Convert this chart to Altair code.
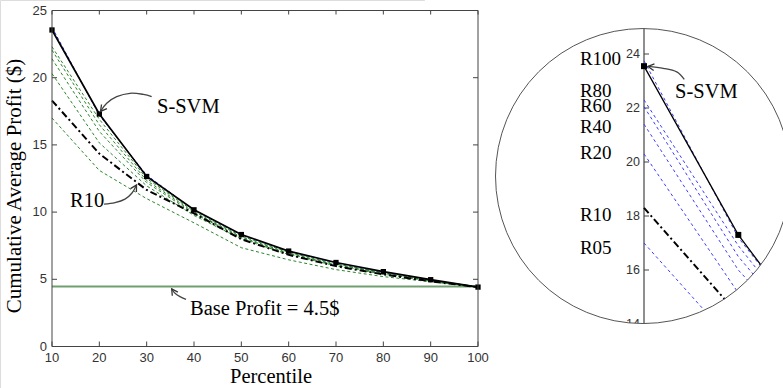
import math
import pandas as pd
import altair as alt

# ---------------- data ----------------
PCT = [10, 20, 30, 40, 50, 60, 70, 80, 90, 100]
SSVM = [23.55, 17.3, 12.65, 10.17, 8.33, 7.1, 6.25, 5.57, 4.97, 4.42]
R100 = [23.75, 17.2, 12.75, 10.15, 8.3, 7.08, 6.22, 5.55, 4.95, 4.42]
R80 = [22.3, 16.9, 12.5, 10.05, 8.22, 7.0, 6.15, 5.5, 4.92, 4.42]
R60 = [22.05, 16.5, 12.35, 9.98, 8.15, 6.95, 6.1, 5.46, 4.9, 4.42]
R40 = [21.4, 16.0, 12.2, 9.9, 8.08, 6.9, 6.05, 5.42, 4.88, 4.42]
R20 = [20.3, 15.15, 11.95, 9.75, 8.0, 6.85, 6.0, 5.38, 4.86, 4.42]
R10 = [18.3, 14.35, 11.65, 9.9, 7.98, 6.82, 5.98, 5.36, 4.85, 4.42]
R05 = [17.0, 13.1, 11.0, 9.2, 7.35, 6.45, 5.72, 5.2, 4.82, 4.42]
BASE = 4.46

XTICKS = [10, 20, 30, 40, 50, 60, 70, 80, 90, 100]
YTICKS = [0, 5, 10, 15, 20, 25]
ITICKS = [14, 16, 18, 20, 22, 24]

MAIN_NOTE_TEXT = ["S-SVM", "R10", "Base Profit = 4.5$"]
MAIN_NOTE_X = [32.18, 13.8, 39.16]
MAIN_NOTE_Y = [17.35, 10.40, 2.34]

INSET_LABEL_TEXT = ["R100", "R80", "R60", "R40", "R20", "R10", "R05"]
INSET_LABEL_Y = [23.59, 22.42, 21.86, 21.06, 20.10, 17.83, 16.59]
INSET_LABEL_X = [3.2] * 7
INSET_NOTE_TEXT = ["S-SVM"]
INSET_NOTE_X = [13.29]
INSET_NOTE_Y = [22.38]

ARROW_SSVM_X = [31.06, 29.29, 26.48, 23.67, 21.56, 20.25]
ARROW_SSVM_Y = [18.59, 18.76, 18.84, 18.59, 18.10, 17.49]
ARROW_R10_X = [20.99, 23.31, 25.42, 26.9, 27.85]
ARROW_R10_Y = [10.60, 10.71, 10.97, 11.42, 12.02]
ARROW_BASE_X = [38.31, 37.04, 35.99, 35.5, 35.29]
ARROW_BASE_Y = [3.51, 3.71, 3.96, 4.18, 4.29]
ARROW_INSET_X = [14.27, 13.47, 12.05, 10.42]
ARROW_INSET_Y = [23.06, 23.34, 23.47, 23.54]

LENS_X = [9.894]
LENS_Y = [19.48]

# ---------------- scales (pixel ranges) ----------------
W, H = 783, 388
MX = alt.Scale(domain=[10, 100], range=[52, 478], nice=False, zero=False)
MY = alt.Scale(domain=[0, 25], range=[346.5, 10.5], nice=False, zero=False)
IX = alt.Scale(domain=[10, 25], range=[644, 644 + 15 * 9.43], nice=False, zero=False)
IY = alt.Scale(domain=[14, 25], range=[324, 27], nice=False, zero=False)

SERIF = "Liberation Serif"
SANS = "Liberation Sans"
ARROW_PATH = "M -1 -0.55 L 0 0 L -1 0.55"


def long_df(names, series):
    rows = []
    for n, s in zip(names, series):
        for p, v in zip(PCT, s):
            rows.append({"pct": p, "val": v, "series": n})
    return pd.DataFrame(rows)


def xy(sx, sy, xf="pct", yf="val"):
    return dict(x=alt.X(f"{xf}:Q", scale=sx, axis=None),
                y=alt.Y(f"{yf}:Q", scale=sy, axis=None))


def curves(sx, sy, names, series, **mk):
    df = long_df(names, series)
    return alt.Chart(df).mark_line(**mk).encode(detail="series:N", **xy(sx, sy))


def arrow(sx, sy, xs, ys, angle):
    df = pd.DataFrame({"x": xs, "y": ys})
    line = alt.Chart(df).mark_line(interpolate="cardinal", color="#444",
                                   strokeWidth=1.3).encode(**xy(sx, sy, "x", "y"))
    head = alt.Chart(df.iloc[[-1]]).mark_point(shape=ARROW_PATH, size=150, angle=angle,
                                               filled=False, color="#333", opacity=1,
                                               strokeWidth=1.3).encode(**xy(sx, sy, "x", "y"))
    return [line, head]


def texts(sx, sy, ts, xs, ys, **mk):
    df = pd.DataFrame({"t": ts, "x": xs, "y": ys})
    return alt.Chart(df).mark_text(**mk).encode(text="t:N", **xy(sx, sy, "x", "y"))


layers = []

# ---------- inset (under mask) ----------
itick_df = pd.DataFrame({"t": ITICKS})
layers.append(alt.Chart(itick_df).mark_text(align="right", baseline="middle", font=SANS,
                                            fontSize=12.5, color="#333").encode(
    y=alt.Y("t:Q", scale=IY, axis=None), x=alt.value(640), text=alt.Text("t:Q", format="d")))
iaxis_df = pd.DataFrame({"x": [10], "y0": [14], "y1": [25]})
layers.append(alt.Chart(iaxis_df).mark_rule(color="#444", strokeWidth=1.2).encode(
    x=alt.X("x:Q", scale=IX, axis=None), y=alt.Y("y0:Q", scale=IY, axis=None), y2="y1:Q"))
layers.append(alt.Chart(itick_df).mark_rule(color="#444", strokeWidth=1).encode(
    y=alt.Y("t:Q", scale=IY, axis=None), x=alt.value(644), x2=alt.value(649)))
layers.append(curves(IX, IY, ["R100", "R80", "R60", "R40", "R20", "R05"],
                     [R100, R80, R60, R40, R20, R05],
                     color="#3c3cff", strokeWidth=1, strokeDash=[3, 3]))
layers.append(curves(IX, IY, ["R10"], [R10], color="black", strokeWidth=2,
                     strokeDash=[7, 3, 2, 3]))
layers.append(curves(IX, IY, ["S-SVM"], [SSVM], color="black", strokeWidth=1.3))
layers.append(alt.Chart(long_df(["S-SVM"], [SSVM])).mark_point(
    shape="square", filled=True, size=36, color="black", opacity=1).encode(**xy(IX, IY)))

# ---------- lens mask & outline ----------
lens_df = pd.DataFrame({"x": LENS_X, "y": LENS_Y})
layers.append(alt.Chart(lens_df).mark_arc(theta=0, theta2=2 * math.pi, innerRadius=147.5,
                                          outerRadius=280, color="white", strokeWidth=0).encode(
    **xy(IX, IY, "x", "y")))
layers.append(alt.Chart(lens_df).mark_arc(theta=0, theta2=2 * math.pi, innerRadius=0,
                                          outerRadius=147.5, fillOpacity=0, stroke="#555",
                                          strokeWidth=1).encode(**xy(IX, IY, "x", "y")))

# ---------- inset annotations ----------
layers.append(texts(IX, IY, INSET_LABEL_TEXT, INSET_LABEL_X, INSET_LABEL_Y, align="left",
                    baseline="alphabetic", font=SERIF, fontSize=19, color="black"))
layers.append(texts(IX, IY, INSET_NOTE_TEXT, INSET_NOTE_X, INSET_NOTE_Y, align="left",
                    baseline="alphabetic", font=SERIF, fontSize=20.5, color="black"))
layers += arrow(IX, IY, ARROW_INSET_X, ARROW_INSET_Y, 186.7)

# ---------- main plot ----------
base_df = pd.DataFrame({"x0": [10], "x1": [100], "y": [BASE]})
layers.append(alt.Chart(base_df).mark_rule(color="#6f9f6f", strokeWidth=2).encode(
    x=alt.X("x0:Q", scale=MX, axis=None), x2="x1:Q", y=alt.Y("y:Q", scale=MY, axis=None)))
layers.append(curves(MX, MY, ["R80", "R60", "R40", "R20", "R05"], [R80, R60, R40, R20, R05],
                     color="#2a862a", strokeWidth=1, strokeDash=[3, 2.5]))
layers.append(curves(MX, MY, ["R100"], [R100], color="#2323ff", strokeWidth=1,
                     strokeDash=[3, 2.5]))
layers.append(curves(MX, MY, ["R10"], [R10], color="black", strokeWidth=2,
                     strokeDash=[7, 3, 2, 3]))
layers.append(curves(MX, MY, ["S-SVM"], [SSVM], color="black", strokeWidth=1.7))
layers.append(alt.Chart(long_df(["S-SVM"], [SSVM])).mark_point(
    shape="square", filled=True, size=28, color="black", opacity=1).encode(**xy(MX, MY)))
layers.append(texts(MX, MY, MAIN_NOTE_TEXT, MAIN_NOTE_X, MAIN_NOTE_Y, align="left",
                    baseline="alphabetic", font=SERIF, fontSize=20.5, color="black"))
layers += arrow(MX, MY, ARROW_SSVM_X, ARROW_SSVM_Y, 127.1)
layers += arrow(MX, MY, ARROW_R10_X, ARROW_R10_Y, 299.4)
layers += arrow(MX, MY, ARROW_BASE_X, ARROW_BASE_Y, 236.3)

# ---------- main axes ----------
frame_df = pd.DataFrame({"x0": [10], "x1": [100], "y0": [0], "y1": [25]})
layers.append(alt.Chart(frame_df).mark_rect(fillOpacity=0, stroke="#444", strokeWidth=1).encode(
    x=alt.X("x0:Q", scale=MX, axis=None), x2="x1:Q",
    y=alt.Y("y0:Q", scale=MY, axis=None), y2="y1:Q"))
xt_df = pd.DataFrame({"t": XTICKS})
yt_df = pd.DataFrame({"t": YTICKS})
for y0, y1 in [(346.5, 341.5), (10.5, 14.5)]:
    layers.append(alt.Chart(xt_df).mark_rule(color="#444", strokeWidth=1).encode(
        x=alt.X("t:Q", scale=MX, axis=None), y=alt.value(y0), y2=alt.value(y1)))
for x0, x1 in [(52, 57), (478, 473)]:
    layers.append(alt.Chart(yt_df).mark_rule(color="#444", strokeWidth=1).encode(
        y=alt.Y("t:Q", scale=MY, axis=None), x=alt.value(x0), x2=alt.value(x1)))
layers.append(alt.Chart(xt_df).mark_text(align="center", baseline="alphabetic", font=SANS,
                                         fontSize=13, color="#333").encode(
    x=alt.X("t:Q", scale=MX, axis=None), y=alt.value(361.5), text=alt.Text("t:Q", format="d")))
layers.append(alt.Chart(yt_df).mark_text(align="right", baseline="middle", font=SANS,
                                         fontSize=13, color="#333").encode(
    y=alt.Y("t:Q", scale=MY, axis=None), x=alt.value(47), text=alt.Text("t:Q", format="d")))
title_df = pd.DataFrame({"t": ["Percentile"]})
layers.append(alt.Chart(title_df).mark_text(align="center", baseline="alphabetic", font=SERIF,
                                            fontSize=20.5, color="black").encode(
    text="t:N", x=alt.value(271), y=alt.value(383.3)))
ytitle_df = pd.DataFrame({"t": ["Cumulative Average Profit ($)"]})
layers.append(alt.Chart(ytitle_df).mark_text(align="center", baseline="alphabetic", font=SERIF,
                                             fontSize=21, angle=270, color="black").encode(
    text="t:N", x=alt.value(21), y=alt.value(186)))

chart = alt.layer(*layers).resolve_scale(x="independent", y="independent").properties(
    width=W, height=H, padding=0,
    autosize=alt.AutoSizeParams(type="none"),
).configure_view(stroke=None).configure(background="white")

chart.save("out.html", embed_options={"renderer": "svg", "actions": False})
